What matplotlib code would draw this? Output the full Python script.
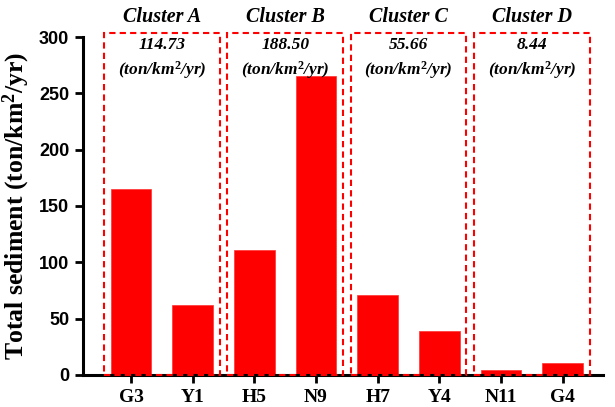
import matplotlib.pyplot as plt
from matplotlib.patches import Rectangle

# data
sites = ['G3', 'Y1', 'H5', 'N9', 'H7', 'Y4', 'N11', 'G4']
sediment = [165, 62, 111, 265, 70.5, 39, 4.5, 10.5]
clusters = ['Cluster A', 'Cluster B', 'Cluster C', 'Cluster D']
cluster_means = ['114.73', '188.50', '55.66', '8.44']

serif = ['Liberation Serif', 'DejaVu Serif']
sans = ['Liberation Sans', 'DejaVu Sans']

plt.rcParams['mathtext.fontset'] = 'custom'
plt.rcParams['mathtext.rm'] = 'Liberation Serif:bold'
plt.rcParams['mathtext.it'] = 'Liberation Serif:italic:bold'

fig = plt.figure(figsize=(6.15, 4.07), dpi=100)
ax = fig.add_axes([0.135, 0.079, 0.845, 0.830])

x = range(len(sites))
ax.bar(x, sediment, width=0.66, color='#ff0000', edgecolor='#ff3030', linewidth=0.5, zorder=1)

ax.set_xlim(-0.78, 7.65)
ax.set_ylim(0, 300)
ax.set_yticks([0, 50, 100, 150, 200, 250, 300])
ax.set_xticks(list(x))
ax.set_xticklabels(sites, fontfamily=serif, fontweight='bold', fontsize=14)
for lab in ax.get_yticklabels():
    lab.set_fontfamily(sans)
    lab.set_fontweight('bold')
    lab.set_fontsize(13)

ax.set_ylabel('Total sediment (ton/km$^2$/yr)', fontfamily=serif, fontweight='bold',
              fontsize=18.5, labelpad=5)

for side in ['top', 'right']:
    ax.spines[side].set_visible(False)
for side in ['left', 'bottom']:
    ax.spines[side].set_linewidth(2.2)
ax.tick_params(axis='both', width=2, length=6, pad=4)

# dashed cluster boxes
margin = 0.44
for i, (name, mean) in enumerate(zip(clusters, cluster_means)):
    x0 = 2 * i - margin
    x1 = 2 * i + 1 + margin
    rect = Rectangle((x0, 0), x1 - x0, 303.5, fill=False, edgecolor='#ff0000',
                     linestyle=(0, (3, 2)), linewidth=1.5, clip_on=False, zorder=3)
    ax.add_patch(rect)
    cx = 2 * i + 0.5
    ax.text(cx, 318, name, ha='center', va='center', fontfamily=serif,
            fontweight='bold', fontstyle='italic', fontsize=14.5, clip_on=False)
    ax.text(cx, 293, mean, ha='center', va='center', fontfamily=serif,
            fontweight='bold', fontstyle='italic', fontsize=12.5)
    ax.text(cx, 271, '(ton/km$^2$/yr)', ha='center', va='center', fontfamily=serif,
            fontweight='bold', fontstyle='italic', fontsize=12.5)

fig.savefig('out.png', dpi=100)
